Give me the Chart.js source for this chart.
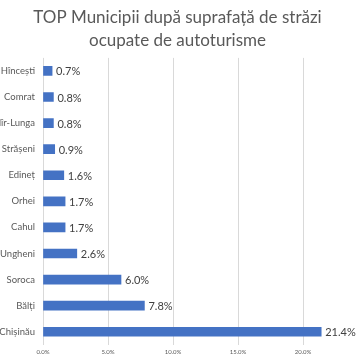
<!DOCTYPE html>
<html><head><meta charset="utf-8">
<script src="https://cdn.jsdelivr.net/npm/chart.js@4/dist/chart.umd.min.js"></script>
<style>html,body{margin:0;padding:0;background:#fff;}canvas{display:block;}</style>
</head><body>
<canvas id="c" width="356" height="364"></canvas>
<script>
const categories = ["Hîncești","Comrat","Ceadîr-Lunga","Strășeni","Edineț","Orhei","Cahul","Ungheni","Soroca","Bălți","Chișinău"];
const values = [0.7,0.8,0.8,0.9,1.6,1.7,1.7,2.6,6.0,7.8,21.4];
const tickValues = [0,5,10,15,20];
const titleLines = ["TOP Municipii după suprafață de străzi","ocupate de autoturisme"];

const valueLabels = {
  id:'valueLabels',
  afterDatasetsDraw(chart){
    const ctx = chart.ctx;
    const meta = chart.getDatasetMeta(0);
    ctx.save();
    ctx.font = '11px Lato, "Open Sans", sans-serif';
    ctx.fillStyle = '#404040';
    ctx.textAlign = 'left';
    ctx.textBaseline = 'middle';
    meta.data.forEach((el,i)=>{
      ctx.fillText(values[i].toFixed(1)+'%', el.x+4, el.y+1);
    });
    ctx.restore();
  }
};

new Chart(document.getElementById('c'),{
  type:'bar',
  data:{labels:categories,datasets:[{data:values,backgroundColor:'#4472C4',barThickness:9}]},
  options:{
    indexAxis:'y',
    responsive:false,
    animation:false,
    layout:{padding:{left:0,right:1,top:0,bottom:4}},
    plugins:{
      legend:{display:false},
      tooltip:{enabled:false},
      title:{display:true,text:titleLines,color:'#595959',font:{family:'Lato, "Open Sans", sans-serif',size:17,weight:'normal',lineHeight:1.35},padding:{top:6,bottom:6}}
    },
    scales:{
      x:{min:0,max:24,
        afterBuildTicks(s){s.ticks = tickValues.map(v=>({value:v}));},
        grid:{color:'#d9d9d9',drawTicks:false},
        border:{display:false},
        ticks:{padding:4,color:'#595959',font:{family:'Lato, sans-serif',size:6},callback:v=>Number(v).toFixed(1)+'%'}
      },
      y:{
        afterFit(s){s.width=43;},
        grid:{display:false,drawTicks:false},
        border:{display:false},
        ticks:{color:'#595959',padding:8,font:{family:'Lato, "Open Sans", sans-serif',size:9.5}}
      }
    }
  },
  plugins:[valueLabels]
});
</script>
</body></html>
